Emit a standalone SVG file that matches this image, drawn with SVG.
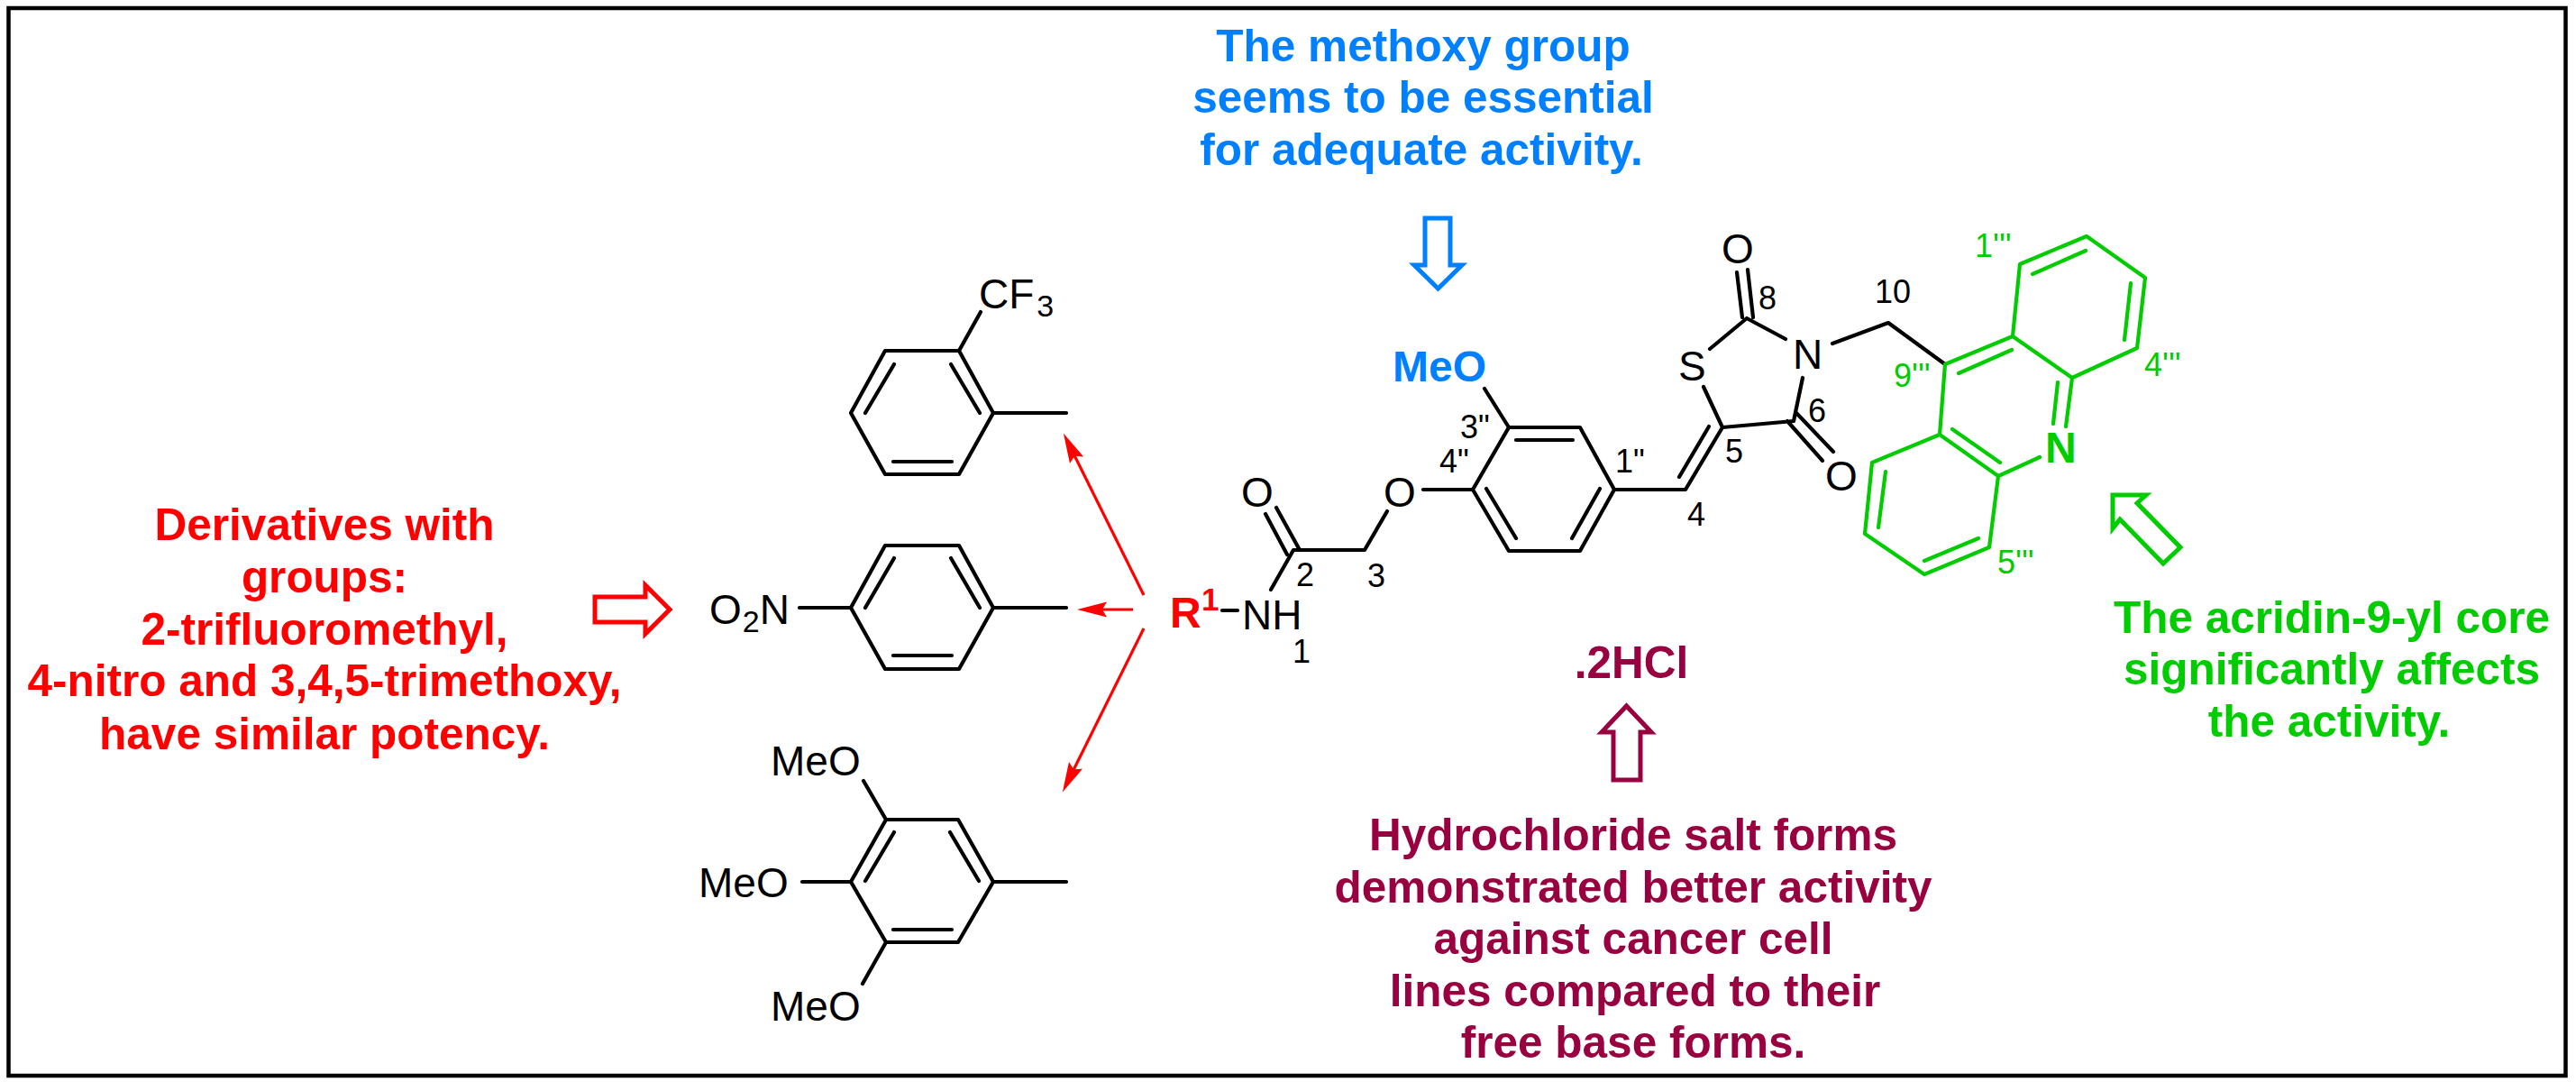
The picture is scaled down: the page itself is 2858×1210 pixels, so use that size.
<svg xmlns="http://www.w3.org/2000/svg" width="2858" height="1210" viewBox="0 0 2858 1210">
<style>
text{font-family:"Liberation Sans",Arial,sans-serif}
.b{fill:none;stroke:#000;stroke-width:4.2;stroke-linecap:round;stroke-linejoin:round}
.g{fill:none;stroke:#00CC00;stroke-width:4.2;stroke-linecap:round;stroke-linejoin:round}
.a{font-size:46px;fill:#000}
.n{font-size:36px;fill:#000}
.ng{font-size:36px;fill:#00CC00}
.t{font-size:49.5px;font-weight:bold;text-anchor:middle}
.red{fill:#FF0000}.blue{fill:#0080FF}.green{fill:#00CC00}.mar{fill:#990040}
.h{fill:#fff;stroke-width:5;stroke-linejoin:miter}
.r{stroke:#FF0000;stroke-width:3.2;fill:none}
</style>
<defs>
<marker id="head" markerUnits="userSpaceOnUse" markerWidth="34" markerHeight="18" refX="8" refY="8.5" orient="auto"><path d="M33,8.5L0,0L5,8.5L0,17Z" fill="#FF0000"/></marker>
</defs>
<rect width="2858" height="1210" fill="#fff"/>
<rect id="frame" x="9.5" y="9" width="2837" height="1184" fill="none" stroke="#000" stroke-width="4.5"/>

<g id="note-r1">
<text class="t red" x="360" y="599">Derivatives with</text>
<text class="t red" x="360" y="657">groups:</text>
<text class="t red" x="360" y="715">2-trifluoromethyl,</text>
<text class="t red" x="360" y="772">4-nitro and 3,4,5-trimethoxy,</text>
<text class="t red" x="360" y="831">have similar potency.</text>
<path class="h" stroke="#FF0000" d="M660,662H716V649L743,676L716,703V690H660Z"/>
</g>

<g id="note-methoxy">
<text class="t blue" x="1579" y="68">The methoxy group</text>
<text class="t blue" x="1579" y="125">seems to be essential</text>
<text class="t blue" x="1577" y="183">for adequate activity.</text>
<path class="h" stroke="#0080FF" d="M1581,242H1609V294H1622L1595.500,320L1569,294H1581Z"/>
</g>

<g id="note-hcl">
<text class="t mar" x="1810" y="752">.2HCl</text>
<path class="h" stroke="#990040" d="M1790,865H1820V812H1832L1804.500,783L1777,812H1790Z"/>
<text class="t mar" x="1812" y="943">Hydrochloride salt forms</text>
<text class="t mar" x="1812" y="1001">demonstrated better activity</text>
<text class="t mar" x="1812" y="1058">against cancer cell</text>
<text class="t mar" x="1814" y="1116">lines compared to their</text>
<text class="t mar" x="1812" y="1173">free base forms.</text>
</g>

<g id="note-acridine">
<text class="t green" x="2587" y="702">The acridin-9-yl core</text>
<text class="t green" x="2587" y="759">significantly affects</text>
<text class="t green" x="2584" y="817">the activity.</text>
<path class="h" stroke="#00CC00" d="M2344,549H2381L2371,558L2419,607L2400,625L2352,576L2344,586Z"/>
</g>

<g id="sub-cf3">
<path class="b" d="M982,389H1064L1102,458L1064,526H982L944,458ZM1055,404L1087,458M992,404L960,458M991,512H1056M1102,458H1183M1064,389L1088,346"/>
<text class="a" x="1086" y="342">CF<tspan font-size="34" dx="3" dy="9">3</tspan></text>
</g>

<g id="sub-no2">
<path class="b" d="M982,605H1064L1102,674L1064,742H982L944,674ZM1055,619L1087,674M992,619L960,674M991,727H1056M1102,674H1183M944,674H887"/>
<text class="a" x="787" y="692">O<tspan font-size="34" dx="1" dy="9">2</tspan><tspan dy="-9">N</tspan></text>
</g>

<g id="sub-trimethoxy">
<path class="b" d="M983,909H1063L1102,978L1063,1045H983L944,978ZM1054,923L1086,977M992,923L960,977M991,1031H1056M1102,978H1183M983,909L958,866M944,978H890M983,1045L957,1091"/>
<text class="a" x="855" y="860">MeO</text>
<text class="a" x="775" y="995">MeO</text>
<text class="a" x="855" y="1132">MeO</text>
</g>

<g id="core">
<path class="b" d="M1674,474H1753L1791,543L1753,611H1674L1634,543ZM1682,488H1745M1775,542L1744,597M1649,542L1682,597"/>
<path class="b" d="M1674,474L1647,431M1634,543H1579M1539,567L1514,610H1435L1410,654M1404,570L1428,615M1416,563L1442,610"/>
<path class="b" d="M1791,543H1870L1911,474L1990,467L2000,419M1863,529L1896,473M1911,474L1890,429M1897,387L1938,353L1981,376M1927,302L1933,352M1939,299L1945,352M1983,467L2022,511M1993,458L2034,501M2033,381L2095,358L2158,404"/>
<line class="b" x1="1356" y1="677" x2="1373" y2="677"/>
<text class="a" x="1377" y="562">O</text>
<text class="a" x="1535" y="562">O</text>
<text class="a" x="1910" y="292">O</text>
<text class="a" x="2025" y="544">O</text>
<text class="a" x="1862" y="422">S</text>
<text class="a" x="1989" y="409">N</text>
<text class="a" x="1378" y="698">NH</text>
<text font-size="48" font-weight="bold" fill="#0080FF" x="1545" y="423">MeO</text>
<text font-size="48" font-weight="bold" fill="#FF0000" x="1298" y="696">R</text>
<text font-size="35" font-weight="bold" fill="#FF0000" x="1333" y="677">1</text>
<text class="n" x="1434" y="735">1</text>
<text class="n" x="1438" y="650">2</text>
<text class="n" x="1517" y="651">3</text>
<text class="n" x="1872" y="583">4</text>
<text class="n" x="1914" y="513">5</text>
<text class="n" x="2006" y="468">6</text>
<text class="n" x="1951" y="343">8</text>
<text class="n" x="2080" y="336">10</text>
<text class="n" x="1620" y="486">3"</text>
<text class="n" x="1597" y="524">4"</text>
<text class="n" x="1792" y="524">1"</text>
</g>

<g id="acridine">
<path class="g" d="M2158,404L2233,373L2241,293L2315,262L2380,308L2371,386L2299,419L2233,373M2173,414L2232,388M2255,304L2314,278M2364,314L2357,377M2299,419L2292,473M2283,424L2278,470M2263,507L2217,528L2152,482L2158,404M2219,513L2166,476M2152,482L2077,513L2069,592L2135,637L2207,607L2217,528M2092,523L2084,585M2135,622L2195,597"/>
<text font-size="48" font-weight="bold" fill="#00CC00" x="2269" y="513">N</text>
<text class="ng" x="2191" y="285">1'''</text>
<text class="ng" x="2379" y="417">4'''</text>
<text class="ng" x="2101" y="429">9'''</text>
<text class="ng" x="2216" y="636">5'''</text>
</g>

<g id="connectors">
<line class="r" x1="1269" y1="660" x2="1191" y2="503" marker-end="url(#head)"/>
<line class="r" x1="1257" y1="676" x2="1220" y2="676" marker-end="url(#head)"/>
<line class="r" x1="1269" y1="697" x2="1190" y2="856" marker-end="url(#head)"/>
</g>
</svg>
